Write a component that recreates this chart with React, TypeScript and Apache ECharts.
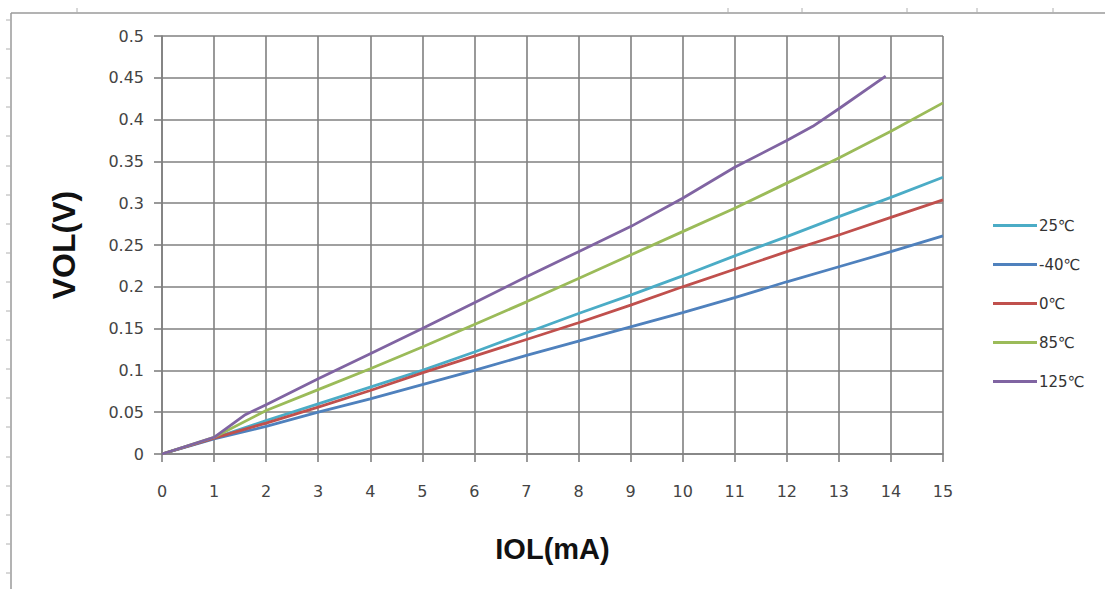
import React, { useEffect, useRef } from "react";
import * as echarts from "echarts";

const seriesNames = ["25℃", "-40℃", "0℃", "85℃", "125℃"];
const seriesColors = ["#4bacc6", "#4f81bd", "#c0504d", "#9bbb59", "#8064a2"];

const iolX = [0, 1, 2, 3, 4, 5, 6, 7, 8, 9, 10, 11, 12, 13, 14, 15];
const vol25 = [0, 0.019, 0.04, 0.06, 0.08, 0.1, 0.122, 0.145, 0.168, 0.19, 0.213, 0.237, 0.26, 0.284, 0.307, 0.331];
const volM40 = [0, 0.018, 0.033, 0.05, 0.066, 0.083, 0.1, 0.118, 0.135, 0.152, 0.169, 0.187, 0.206, 0.224, 0.242, 0.261];
const vol0 = [0, 0.019, 0.037, 0.056, 0.076, 0.097, 0.117, 0.137, 0.157, 0.178, 0.2, 0.221, 0.242, 0.262, 0.283, 0.304];
const vol85 = [0, 0.02, 0.052, 0.077, 0.102, 0.128, 0.155, 0.182, 0.21, 0.238, 0.266, 0.294, 0.324, 0.354, 0.386, 0.42];

const iolX125 = [0, 1, 1.6, 2, 3, 4, 5, 6, 7, 8, 9, 10, 11, 12, 12.5, 13, 13.9];
const vol125 = [0, 0.02, 0.047, 0.059, 0.09, 0.12, 0.15, 0.181, 0.212, 0.242, 0.272, 0.306, 0.343, 0.375, 0.392, 0.413, 0.452];

const xTickMin = 0;
const xTickMax = 15;
const yTickMin = 0;
const yTickMax = 0.5;

const pairs = (xs: number[], ys: number[]) => xs.map((x, i) => [x, ys[i]]);

export default function App() {
  const ref = useRef<HTMLDivElement>(null);
  useEffect(() => {
    document.body.style.margin = "0";
    if (!ref.current) return;
    const chart = echarts.init(ref.current, null, { renderer: "svg" });
    const datasets = [
      pairs(iolX, vol25),
      pairs(iolX, volM40),
      pairs(iolX, vol0),
      pairs(iolX, vol85),
      pairs(iolX125, vol125),
    ];
    const gray = "#808080";
    const frameTicks: any[] = [];
    for (let y = 20; y < 589; y += 29.1) {
      frameTicks.push({
        type: "line",
        shape: { x1: 6, y1: Math.round(y), x2: 11, y2: Math.round(y) },
        style: { stroke: "#b0b0b0", lineWidth: 1 },
        silent: true,
      });
    }
    [77, 728, 802, 907, 977, 1053].forEach((x) => {
      frameTicks.push({
        type: "line",
        shape: { x1: x, y1: 8, x2: x, y2: 13 },
        style: { stroke: "#b0b0b0", lineWidth: 1 },
        silent: true,
      });
    });
    chart.setOption({
      animation: false,
      backgroundColor: "#ffffff",
      grid: { left: 162, right: 162, top: 36, bottom: 135, containLabel: false },
      legend: {
        orient: "vertical",
        left: 988,
        top: 212,
        icon: "rect",
        itemWidth: 44,
        itemHeight: 3,
        itemGap: 22,
        data: seriesNames,
        textStyle: {
          fontFamily: "DejaVu Sans",
          fontSize: 15,
          color: "#333",
          lineHeight: 17,
          padding: [0, 0, 0, -3],
        },
      },
      xAxis: {
        type: "value",
        min: xTickMin,
        max: xTickMax,
        interval: 1,
        name: "IOL(mA)",
        nameLocation: "middle",
        nameGap: 80,
        nameTextStyle: {
          fontFamily: "Liberation Sans",
          fontWeight: "bold",
          fontSize: 29,
          color: "#111",
        },
        axisLine: { show: true, lineStyle: { color: gray, width: 1.6 } },
        axisTick: { show: true, length: 8, inside: false, lineStyle: { color: gray, width: 1.6 } },
        axisLabel: {
          margin: 29,
          fontFamily: "DejaVu Sans",
          fontSize: 16,
          color: "#444",
        },
        splitLine: { show: true, lineStyle: { color: gray, width: 1.6 } },
      },
      yAxis: {
        type: "value",
        min: yTickMin,
        max: yTickMax,
        interval: 0.05,
        name: "VOL(V)",
        nameLocation: "middle",
        nameGap: 82,
        nameRotate: 90,
        nameTextStyle: {
          fontFamily: "Liberation Sans",
          fontWeight: "bold",
          fontSize: 32,
          color: "#111",
        },
        axisLine: { show: true, lineStyle: { color: gray, width: 1.6 } },
        axisTick: { show: true, length: 8, inside: false, lineStyle: { color: gray, width: 1.6 } },
        axisLabel: {
          margin: 18,
          fontFamily: "DejaVu Sans",
          fontSize: 16,
          color: "#444",
        },
        splitLine: { show: true, lineStyle: { color: gray, width: 1.6 } },
      },
      series: seriesNames.map((name, i) => ({
        name,
        type: "line",
        data: datasets[i],
        showSymbol: false,
        symbol: "none",
        smooth: false,
        lineStyle: { color: seriesColors[i], width: 2.8 },
        itemStyle: { color: seriesColors[i] },
      })),
      graphic: [
        {
          type: "line",
          shape: { x1: 11, y1: 13, x2: 1105, y2: 13 },
          style: { stroke: "#9a9a9a", lineWidth: 1.5 },
          silent: true,
        },
        {
          type: "line",
          shape: { x1: 11, y1: 13, x2: 11, y2: 589 },
          style: { stroke: "#9a9a9a", lineWidth: 1.5 },
          silent: true,
        },
        ...frameTicks,
      ],
    });
    return () => chart.dispose();
  }, []);
  return <div ref={ref} style={{ width: 1105, height: 589 }} />;
}
